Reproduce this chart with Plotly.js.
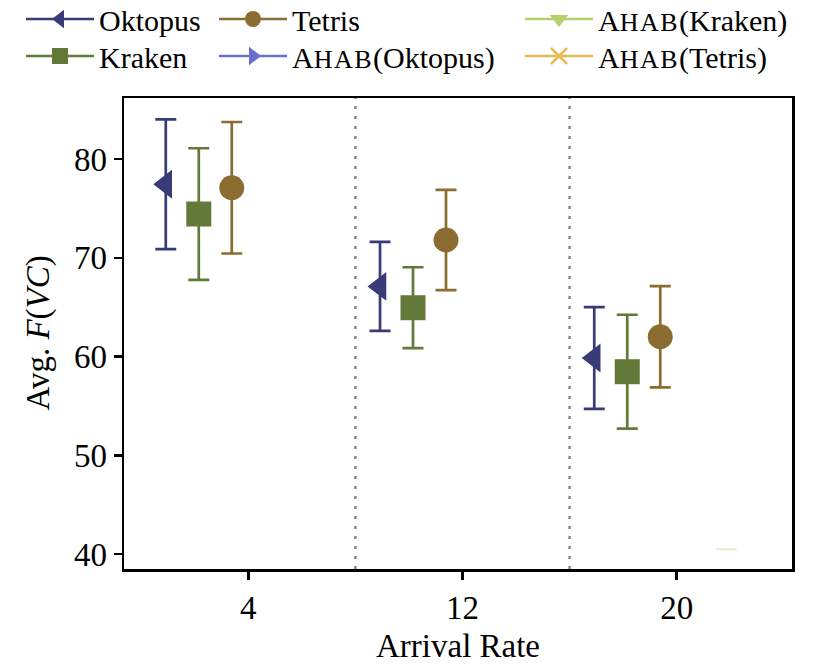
<!DOCTYPE html>
<html>
<head>
<meta charset="utf-8">
<script src="https://cdn.plot.ly/plotly-3.0.1.min.js"></script>
<style>html,body{margin:0;padding:0;background:#fff;}#chart{width:819px;height:667px;}</style>
</head>
<body>
<div id="chart"></div>
<script>
// ---- data ----
const categories = ['4', '12', '20'];
const separators = [0.5, 1.5];
const seriesNames = ['Oktopus', 'Kraken', 'Tetris', 'AHAB(Oktopus)', 'AHAB(Kraken)', 'AHAB(Tetris)'];
const oktopusMean = [77.44, 67.10, 59.85];
const oktopusErr  = [6.57, 4.50, 5.15];
const krakenMean  = [74.43, 64.94, 58.46];
const krakenErr   = [6.66, 4.10, 5.77];
const tetrisMean  = [77.09, 71.80, 62.00];
const tetrisErr   = [6.66, 5.07, 5.13];
const ahabOktopusMean = [null, null, null];
const ahabOktopusErr  = [0, 0, 0];
const ahabKrakenMean  = [null, null, 40.48];
const ahabKrakenErr   = [0, 0, 0];
const ahabTetrisMean  = [null, null, null];
const ahabTetrisErr   = [0, 0, 0];
const xTitle = 'Arrival Rate';
const yTitle = 'Avg. <i>F</i>(<i>VC</i>)';

// ---- styling ----
const FONT = 'Liberation Serif, Times New Roman, serif';
const colors = ['#393b79', '#637939', '#8c6d31', '#6b6ecf', '#b5cf6b', '#e7ba52'];
const symbols = ['triangle-left', 'square', 'circle', 'triangle-right', 'triangle-down', 'x-thin-open'];
const legendIds = ['legend', 'legend2', 'legend3', 'legend4', 'legend5', 'legend6'];
// legend slot: [left px, centre px]
const legendSlots = [[21, 19], [21, 56], [214, 19], [214, 56], [520, 19], [520, 56]];
const means = [oktopusMean, krakenMean, tetrisMean, ahabOktopusMean, ahabKrakenMean, ahabTetrisMean];
const errs = [oktopusErr, krakenErr, tetrisErr, ahabOktopusErr, ahabKrakenErr, ahabTetrisErr];
const groupWidth = 0.154;

function displayName(n) {
  return n.replace('AHAB', 'A<span style="font-size:26px;letter-spacing:1.5px">HAB</span>');
}

const traces = [];
seriesNames.forEach(function (name, s) {
  const off = (s - 2.5) * groupWidth;
  categories.forEach(function (c, k) {
    const faint = (s === 4 && means[s][k] !== null);
    traces.push({
      type: 'scatter',
      mode: 'lines+markers',
      x: [k + off],
      y: [means[s][k]],
      name: displayName(name),
      legend: legendIds[s],
      legendgroup: name,
      showlegend: k === 0,
      line: {color: colors[s], width: 2.5},
      marker: {
        symbol: symbols[s],
        size: 25,
        color: colors[s],
        opacity: faint ? 0 : 1,
        line: {width: s === 5 ? 2.5 : 0, color: colors[s]}
      },
      error_y: {
        type: 'data', array: [errs[s][k]], visible: true,
        color: faint ? 'rgba(181,207,107,0.3)' : colors[s],
        thickness: 2.7, width: 10.5
      },
      hoverinfo: 'x+y'
    });
  });
});

const shapes = separators.map(function (v) {
  return {type: 'line', xref: 'x', yref: 'paper', x0: v, x1: v, y0: 0, y1: 1,
          line: {color: '#888888', width: 2.5, dash: '3px,7px'}, layer: 'below'};
});

function legendAt(slot) {
  return {
    orientation: 'v', xref: 'container', yref: 'container',
    x: slot[0] / 819, y: 1 - slot[1] / 667, xanchor: 'left', yanchor: 'middle',
    bgcolor: 'rgba(0,0,0,0)', borderwidth: 0, tracegroupgap: 0,
    font: {family: FONT, size: 30, color: '#000'}, itemwidth: 68
  };
}

const plotL = 124, plotR = 792, plotT = 98, plotB = 569;
const layout = {
  width: 819, height: 667,
  paper_bgcolor: '#fff', plot_bgcolor: '#fff',
  margin: {l: plotL, r: 819 - plotR, t: plotT, b: 667 - plotB, pad: 0, autoexpand: false},
  font: {family: FONT, size: 33, color: '#000'},
  showlegend: true,
  xaxis: {
    range: [-0.58, 2.538], tickvals: [0, 1, 2], ticktext: categories, tickangle: 0,
    showgrid: false, zeroline: false, showline: true, mirror: true,
    linecolor: '#000', linewidth: 2.5, ticks: 'outside', ticklen: 8, tickwidth: 2.5, tickcolor: '#000',
    tickfont: {family: FONT, size: 33},
    automargin: false
  },
  yaxis: {
    range: [38.48, 86.18], tickvals: [40, 50, 60, 70, 80],
    showgrid: false, zeroline: false, showline: true, mirror: true,
    linecolor: '#000', linewidth: 2.5, ticks: 'outside', ticklen: 8, tickwidth: 2.5, tickcolor: '#000',
    tickfont: {family: FONT, size: 33},
    automargin: false
  },
  annotations: [
    {text: xTitle, xref: 'paper', yref: 'paper', x: 0.5, y: -(666 - plotB) / (plotB - plotT),
     xanchor: 'center', yanchor: 'bottom', showarrow: false, font: {family: FONT, size: 33}},
    {text: yTitle, xref: 'paper', yref: 'paper', x: (38 - plotL) / (plotR - plotL), y: 0.5,
     xanchor: 'center', yanchor: 'middle', textangle: -90, showarrow: false, font: {family: FONT, size: 33}}
  ],
  shapes: shapes
};
legendIds.forEach(function (id, i) { layout[id] = legendAt(legendSlots[i]); });

Plotly.newPlot('chart', traces, layout, {displayModeBar: false, staticPlot: true});
</script>
</body>
</html>
